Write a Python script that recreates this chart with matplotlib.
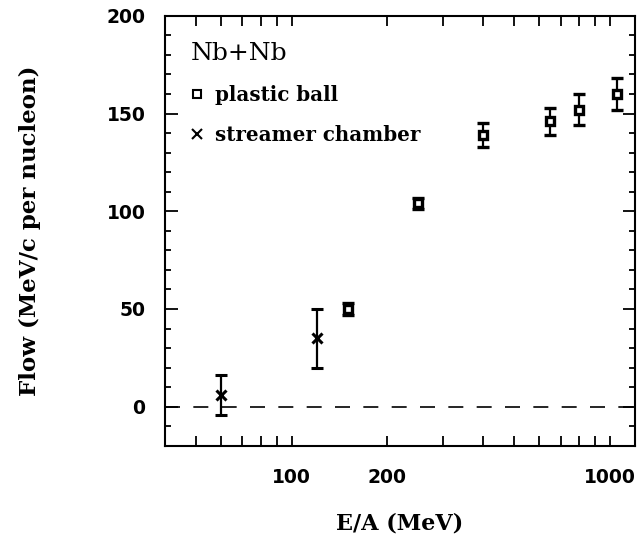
import matplotlib
matplotlib.use("Agg")
import matplotlib.pyplot as plt
from matplotlib.lines import Line2D
from matplotlib.ticker import FixedLocator, NullFormatter, FixedFormatter

# plastic ball data (E/A in MeV, flow in MeV/c per nucleon)
pb_energy = [150, 250, 400, 650, 800, 1050]
pb_flow = [50, 104, 139, 146, 152, 160]
pb_err = [3, 3, 6, 7, 8, 8]

# streamer chamber data
sc_energy = [60, 120]
sc_flow = [6, 35]
sc_err = [10, 15]

x_major = [100, 200, 1000]
x_minor = [50, 60, 70, 80, 90, 300, 400, 500, 600, 700, 800, 900]

SERIF = "DejaVu Serif"
SANS = "DejaVu Sans"

fig = plt.figure(figsize=(6.39, 5.45), dpi=100)
ax = fig.add_axes([0.258, 0.182, 0.736, 0.789])

ax.axhline(0, color="black", lw=1.2, ls=(0, (9, 8)))

ax.errorbar(pb_energy, pb_flow, yerr=pb_err, fmt="s", ms=6, mfc="white",
            mec="black", mew=2.4, ecolor="black", elinewidth=1.6, capsize=4,
            capthick=1.6, color="black")
ax.errorbar(sc_energy, sc_flow, yerr=sc_err, fmt="x", ms=7, mew=2.2,
            ecolor="black", elinewidth=1.6, capsize=4, capthick=1.6,
            color="black")

ax.set_xscale("log")
ax.set_xlim(40, 1200)
ax.set_ylim(-20, 200)

ax.xaxis.set_major_locator(FixedLocator(x_major))
ax.xaxis.set_major_formatter(FixedFormatter([str(v) for v in x_major]))
ax.xaxis.set_minor_locator(FixedLocator(x_minor))
ax.xaxis.set_minor_formatter(NullFormatter())
ax.yaxis.set_major_locator(FixedLocator([0, 50, 100, 150, 200]))
ax.yaxis.set_minor_locator(FixedLocator(range(-10, 200, 10)))

ax.tick_params(which="both", direction="in", top=True, right=True,
               width=1.3, color="black")
ax.tick_params(axis="x", which="both", length=7, pad=16)
ax.tick_params(axis="y", which="major", length=9, pad=14)
ax.tick_params(axis="y", which="minor", length=4)
for lab in ax.get_xticklabels() + ax.get_yticklabels():
    lab.set_fontfamily(SANS)
    lab.set_fontweight("bold")
    lab.set_fontsize(13.5)

for sp in ax.spines.values():
    sp.set_linewidth(1.5)

ax.set_xlabel("E/A (MeV)", fontfamily=SERIF, fontweight="bold",
              fontsize=16, labelpad=18)
ax.set_ylabel("Flow (MeV/c per nucleon)", fontfamily=SERIF,
              fontweight="bold", fontsize=16.5, labelpad=47)

handles = [
    Line2D([], [], ls="none", marker="s", ms=6, mfc="white", mec="black", mew=1.5),
    Line2D([], [], ls="none", marker="x", ms=7, mew=1.5, color="black"),
]
leg = ax.legend(handles, ["plastic ball", "streamer chamber"], loc="upper left",
                frameon=False, title="Nb+Nb", alignment="left",
                handlelength=0.6, handletextpad=0.6, labelspacing=1.0,
                borderaxespad=0.4, bbox_to_anchor=(0.022, 0.975),
                prop={"family": SERIF, "weight": "bold", "size": 14.3},
                title_fontproperties={"family": SERIF, "size": 18})

fig.savefig("out.png", dpi=100)
